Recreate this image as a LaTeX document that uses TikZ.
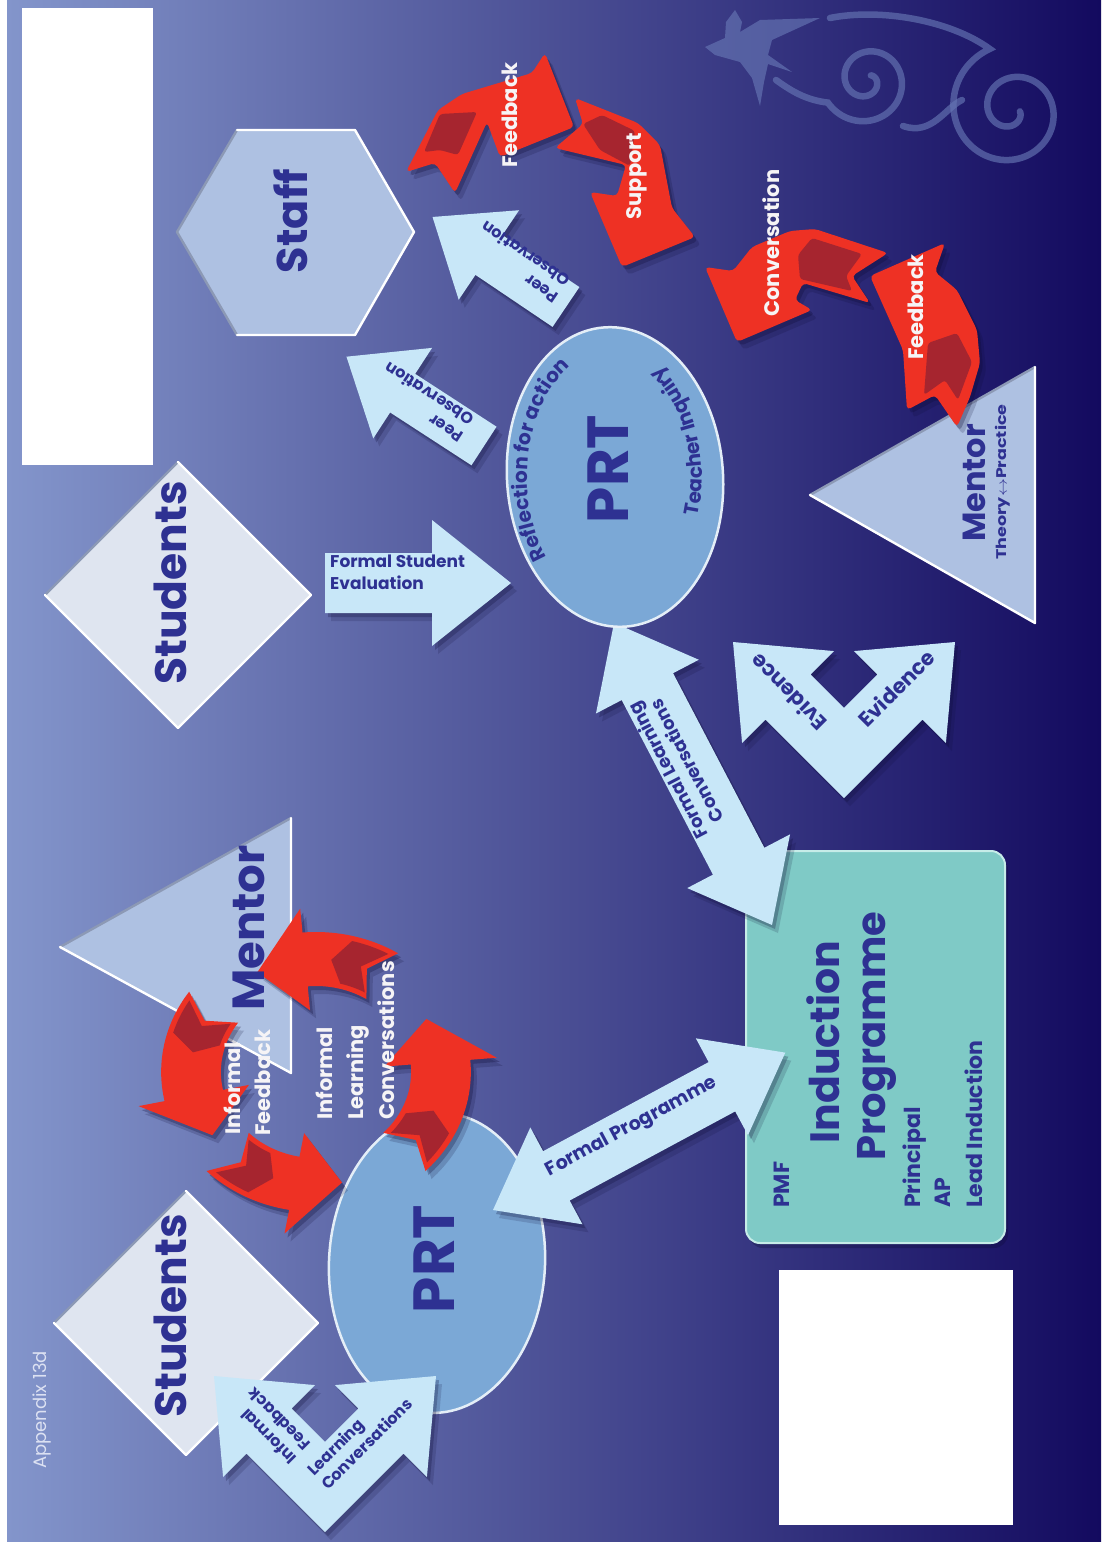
\documentclass[tikz,border=0pt]{standalone}
\usepackage{fontspec}
\setmainfont{Poppins}
\usetikzlibrary{decorations.text}

\definecolor{ink}{HTML}{2E3192}
\definecolor{bgL}{HTML}{8395CB}
\definecolor{bgM}{HTML}{454D8F}
\definecolor{bgR}{HTML}{130A5F}
\definecolor{paleblue}{HTML}{AEC1E2}
\definecolor{palegrey}{HTML}{DFE5F0}
\definecolor{prtblue}{HTML}{7BA8D6}
\definecolor{indteal}{HTML}{7FCAC6}
\definecolor{indedge}{HTML}{C6ECE8}
\definecolor{arrowfill}{HTML}{C8E7F8}
\definecolor{redA}{HTML}{EE3124}
\definecolor{redD}{HTML}{A6252F}
\definecolor{shadowc}{HTML}{0D0B35}
\definecolor{edgegrey}{HTML}{8C99B5}
\definecolor{motifc}{HTML}{6676B4}
\definecolor{whitetext}{HTML}{F6F4F6}
\definecolor{apptext}{HTML}{DCE1F2}

\newcommand{\fsz}[1]{\fontsize{#1}{#1}\selectfont}
\newcommand{\fszl}[2]{\fontsize{#1}{#2}\selectfont}

% straight block arrow: tail centre (#1,#2), direction #3, length #4,
% shaft half-width #5, head half-width #6, head length #7
\newcommand{\blockarrow}[7]{%
  \foreach \shx/\shy/\sho/\shc in {6/8/0.16/shadowc,3/4/0.25/shadowc,0/0/1/arrowfill}{%
    \fill[fill=\shc, opacity=\sho, shift={(\shx,\shy)}, shift={(#1,#2)}, rotate=#3]
      (0,-#5) -- ({#4-#7},-#5) -- ({#4-#7},-#6) -- (#4,0) -- ({#4-#7},#6)
      -- ({#4-#7},#5) -- (0,#5) -- cycle;}}

% block arrow with a head at both ends: first tip (#1,#2)
\newcommand{\twowayarrow}[7]{%
  \foreach \shx/\shy/\sho/\shc in {6/8/0.16/shadowc,3/4/0.25/shadowc,0/0/1/arrowfill}{%
    \fill[fill=\shc, opacity=\sho, shift={(\shx,\shy)}, shift={(#1,#2)}, rotate=#3]
      (0,0) -- (#7,-#6) -- (#7,-#5) -- ({#4-#7},-#5) -- ({#4-#7},-#6) -- (#4,0)
      -- ({#4-#7},#6) -- ({#4-#7},#5) -- (#7,#5) -- (#7,#6) -- cycle;}}

% two arrows leaving a common centre at 45 degrees
\newcommand{\forkarrow}[2]{%
  \foreach \shx/\shy/\sho/\shc in {6/8/0.16/shadowc,3/4/0.25/shadowc,0/0/1/arrowfill}{%
    \fill[fill=\shc, opacity=\sho, shift={(\shx,\shy)}, shift={(#1,#2)}]
      (0,45.2) -- (-78.5,-33.3) -- (-101.9,-9.9) -- (-111,-111) -- (-9.9,-101.9)
      -- (-33.3,-78.5) -- (0,-45.2) -- (33.3,-78.5) -- (9.9,-101.9) -- (111,-111)
      -- (101.9,-9.9) -- (78.5,-33.3) -- cycle;}}

% freeform red ribbon arrow: outline #1, darker fold #2
\newcommand{\redarrow}[2]{%
  \foreach \shx/\shy/\sho/\shc in {6/8/0.18/shadowc,3/4/0.28/shadowc,0/0/1/redA}{%
    \fill[fill=\shc, opacity=\sho, rounded corners=4pt, shift={(\shx,\shy)}] #1;}
  \fill[redD, rounded corners=3pt] #2;}

% red arrow on the ring of four: tail, head base, tip, tail notch, fold end (angles)
\newcommand{\cyclearrow}[5]{%
  \foreach \shx/\shy/\sho/\shc in {6/8/0.18/shadowc,3/4/0.28/shadowc,0/0/1/redA}{%
    \fill[fill=\shc, opacity=\sho, shift={(\shx,\shy)}, shift={(316,1072)}, xscale=1.106]
      (#1:140) arc[start angle=#1, end angle=#2, radius=140] -- (#2:164) -- (#3:113)
      -- (#2:62) -- (#2:86) arc[start angle=#2, end angle=#1, radius=86] -- (#4:113) -- cycle;}
  \fill[redD, shift={(316,1072)}, xscale=1.106]
      ({#1-3}:135) arc[start angle={#1-3}, end angle=#5, radius=135] -- ({#5-7}:113)
      -- (#5:91) arc[start angle=#5, end angle={#1-3}, radius=91] -- ({#4-3}:113) -- cycle;}

\begin{document}
\begin{tikzpicture}[x=1pt,y=-1pt,
  lbl/.style={text=ink, inner sep=0pt, font=\fsz{#1}\bfseries},
  wlbl/.style={text=whitetext, inner sep=0pt, font=\fsz{#1}\bfseries},
  lightedge/.style={draw=white, line width=2.4pt, line join=round, line cap=round},
  darkedge/.style={draw=edgegrey, line width=2.4pt, line join=round, line cap=round}]

\useasboundingbox (0,0) rectangle (1107,1548);
\fill[white] (0,0) rectangle (1107,1548);
\shade[left color=bgL, middle color=bgM, right color=bgR] (7,0) rectangle (1101,1541);

% blank panels
\fill[white] (22,8) rectangle (153,465);
\fill[white] (779,1270) rectangle (1013,1525);

% koru ornament and bird
\begin{scope}[draw=motifc, line width=6.5pt, line cap=round, opacity=0.65]
  \draw plot[domain=-50:510, samples=140] ({867+(6+0.07*(\x+50))*cos(\x)},{80+(6+0.07*(\x+50))*sin(\x)})
    .. controls (805,100) and (790,90) .. (776,80);
  \draw plot[domain=10:610, samples=140] ({1012+(8+0.095*(\x-10))*cos(\x)},{110+(8+0.095*(\x-10))*sin(\x)})
    .. controls (950,20) and (880,8) .. (830,18);
  \draw (903,126) .. controls (932,136) and (945,108) .. (962,100);
\end{scope}
\fill[motifc, opacity=0.65] (705,47) -- (725,38) -- (726,22) -- (735,10) -- (742,22) -- (740,32)
  -- (760,20) -- (820,18) -- (772,40) -- (768,55) -- (792,72) -- (768,64) -- (764,82)
  -- (760,106) -- (752,78) -- (740,62) -- (715,55) -- cycle;

% Staff hexagon
\fill[paleblue] (177,232) -- (237,130) -- (355,130) -- (414,232) -- (355,335) -- (237,335) -- cycle;
\draw[darkedge] (237,335) -- (177,232) -- (237,130);
\draw[lightedge] (237,130) -- (355,130) -- (414,232) -- (355,335) -- (237,335);

% Students diamonds
\fill[palegrey] (45,595) -- (178,462) -- (311,595) -- (178,728) -- cycle;
\draw[darkedge] (45,595) -- (178,462);
\draw[lightedge] (178,462) -- (311,595) -- (178,728) -- (45,595);
\fill[palegrey] (54,1323) -- (186,1191) -- (318,1323) -- (186,1455) -- cycle;
\draw[darkedge] (54,1323) -- (186,1191);
\draw[lightedge] (186,1191) -- (318,1323) -- (186,1455) -- (54,1323);

% Mentor triangles
\fill[paleblue] (60,947) -- (291,818) -- (291,1073) -- cycle;
\draw[darkedge] (60,947) -- (291,818);
\draw[lightedge] (291,818) -- (291,1073) -- (60,947);
\fill[paleblue] (810,495) -- (1035,367) -- (1035,623) -- cycle;
\draw[darkedge] (810,495) -- (1035,367);
\draw[lightedge] (1035,367) -- (1035,623) -- (810,495);

% Induction Programme panel
\fill[shadowc, opacity=0.3, rounded corners=14pt] (749,856) rectangle (1008,1248);
\fill[indteal, rounded corners=14pt] (746,851) rectangle (1005,1243);
\draw[indedge, line width=2pt, rounded corners=14pt] (746,851) rectangle (1005,1243);

% formal learning conversations link
\twowayarrow{772}{925}{117.6}{341}{29}{58}{72}

% PRT ellipses
\fill[prtblue, rotate around={4:(615,477)}] (615,477) ellipse[x radius=108, y radius=150];
\draw[white!80!prtblue, line width=2.5pt, rotate around={4:(615,477)}] (615,477) ellipse[x radius=108, y radius=150];
\fill[prtblue, rotate around={-3:(437,1263)}] (437,1263) ellipse[x radius=108, y radius=150];
\draw[white!80!prtblue, line width=2.5pt, rotate around={-3:(437,1263)}] (437,1263) ellipse[x radius=108, y radius=150];

% light blue arrows
\blockarrow{325}{583}{0}{186}{30}{63}{79}
\blockarrow{484}{446}{147}{164}{23}{54}{67}
\blockarrow{566}{307}{146}{161}{24}{54}{68}
\twowayarrow{493}{1210}{28.3}{332}{28}{55}{72}
\forkarrow{844}{753}
\forkarrow{325}{1487}

% red ribbon arrows, upper group
\redarrow{(406,172) -- (438,110) -- (462,94) -- (532,73) -- (545,53) -- (574,127) -- (500,157)
  -- (487,122) -- (455,193) -- (435,163) -- cycle}
  {(424,152) -- (440,114) -- (477,112) -- (458,155) -- (440,150) -- cycle}
\redarrow{(575,98) -- (638,123) -- (660,145) -- (672,208) -- (695,237) -- (622,267) -- (590,192)
  -- (617,196) -- (626,165) -- (555,148) -- (583,124) -- cycle}
  {(583,124) -- (602,115) -- (635,131) -- (630,166) -- (600,150) -- cycle}
\redarrow{(705,267) -- (733,271) -- (752,247) -- (790,231) -- (815,229) -- (888,253) -- (852,276)
  -- (870,303) -- (803,283) -- (795,300) -- (812,310) -- (737,342) -- cycle}
  {(798,255) -- (812,238) -- (862,254) -- (846,276) -- (852,291) -- (800,279) -- cycle}
\redarrow{(945,243) -- (935,272) -- (957,290) -- (977,330) -- (980,363) -- (970,397) -- (957,427)
  -- (935,395) -- (907,410) -- (903,350) -- (870,276) -- cycle}
  {(928,343) -- (957,333) -- (972,362) -- (958,400) -- (945,380) -- (924,395) -- cycle}

% ring of four red arrows
\cyclearrow{-58}{-95}{-118}{-66}{-76}
\cyclearrow{215}{168}{146}{207}{197}
\cyclearrow{135}{100}{78}{127}{117}
\cyclearrow{45}{-5}{-28}{37}{27}

% shape labels
\node[lbl=43, rotate=90, anchor=base] (staff) at (307,221) {Staff};
\node[lbl=44, rotate=90, anchor=base] (studentsA) at (186,583) {Students};
\node[lbl=44, rotate=90, anchor=base] (studentsB) at (186,1316) {Students};
\node[lbl=45, rotate=90, anchor=base] (mentorA) at (264,928) {Mentor};
\node[lbl=32, rotate=90, anchor=base] (mentorB) at (985,483) {Mentor};
\node[lbl=14, rotate=90] (theory) at (1003,482) {\scalebox{1.25}[1]{Theory$\leftrightarrow$Practice}};
\node[lbl=58, rotate=90, anchor=base] (prtA) at (628,469) {PRT};
\node[lbl=58, rotate=90, anchor=base] (prtB) at (454,1259) {PRT};
\node[lbl=41, rotate=90, anchor=base] (induction) at (839,1042) {Induction};
\node[lbl=40, rotate=90, anchor=base] (programme) at (885,1036) {Programme};
\node[lbl=22, rotate=90, anchor=base west] (pmf) at (789,1208) {PMF};
\node[lbl=22, rotate=90, anchor=base west] (principal) at (920,1208) {Principal};
\node[lbl=22, rotate=90, anchor=base west] (ap) at (950,1208) {AP};
\node[lbl=22, rotate=90, anchor=base west] (lead) at (982,1208) {Lead Induction};

% curved labels inside the upper PRT
\path[decorate, decoration={text along path, text align=center, text color=ink,
  text={|\fsz{20}\bfseries|Reflection for action}}]
  plot[domain=127:256, samples=80] ({615+88*cos(\x)},{477+128*sin(\x)});
\path[decorate, decoration={text along path, text align=center, text color=ink,
  text={|\fsz{20}\bfseries|Teacher Inquiry}}]
  plot[domain=-25:69, samples=80] ({615+87*cos(-\x)},{477+128*sin(-\x)});

% arrow labels
\node[lbl=17, anchor=base west] (fse1) at (330,567) {Formal Student};
\node[lbl=17, anchor=base west] (fse2) at (330,589) {Evaluation};
\node[lbl=16, font=\fszl{16}{20}\bfseries, align=left, rotate=147] (peerA) at (424,402) {Peer\\Observation};
\node[lbl=16, font=\fszl{16}{20}\bfseries, align=left, rotate=146] (peerB) at (520,262) {Peer\\Observation};
\node[lbl=18, font=\fszl{18}{21}\bfseries, align=center, rotate=117.6] (flc) at (677,766) {Formal Learning\\Conversations};
\node[lbl=19, rotate=28.3] (fp) at (632,1127) {Formal Programme};
\node[lbl=21, rotate=135] (evA) at (788,693) {Evidence};
\node[lbl=21, rotate=45] (evB) at (896,688) {Evidence};
\node[lbl=16, rotate=135, anchor=base west] (ifA) at (298,1458) {Informal};
\node[lbl=16, rotate=135, anchor=base west] (ifB) at (312,1444) {Feedback};
\node[lbl=16, rotate=45, anchor=base west] (lcA) at (314,1477) {Learning};
\node[lbl=16, rotate=45, anchor=base west] (lcB) at (328,1491) {Conversations};

% labels on the red arrows
\node[wlbl=21, rotate=90, anchor=base] (fbA) at (517,115) {Feedback};
\node[wlbl=21, rotate=90] (sup) at (637,176) {Support};
\node[wlbl=21, rotate=90, anchor=base] (conv) at (779,243) {Conversation};
\node[wlbl=21, rotate=90, anchor=base] (fbB) at (923,307) {Feedback};
\node[wlbl=21, rotate=90, anchor=base west] (infA) at (240,1135) {Informal};
\node[wlbl=21, rotate=90, anchor=base west] (infB) at (270,1136) {Feedback};
\node[wlbl=21, rotate=90, anchor=base west] (ilc1) at (332,1120) {Informal};
\node[wlbl=21, rotate=90, anchor=base west] (ilc2) at (363,1120) {Learning};
\node[wlbl=21, rotate=90, anchor=base west] (ilc3) at (394,1120) {Conversations};

\node[text=apptext, inner sep=0pt, font=\fsz{18}, rotate=90] (app) at (42,1410) {Appendix 13d};
\end{tikzpicture}
\end{document}
